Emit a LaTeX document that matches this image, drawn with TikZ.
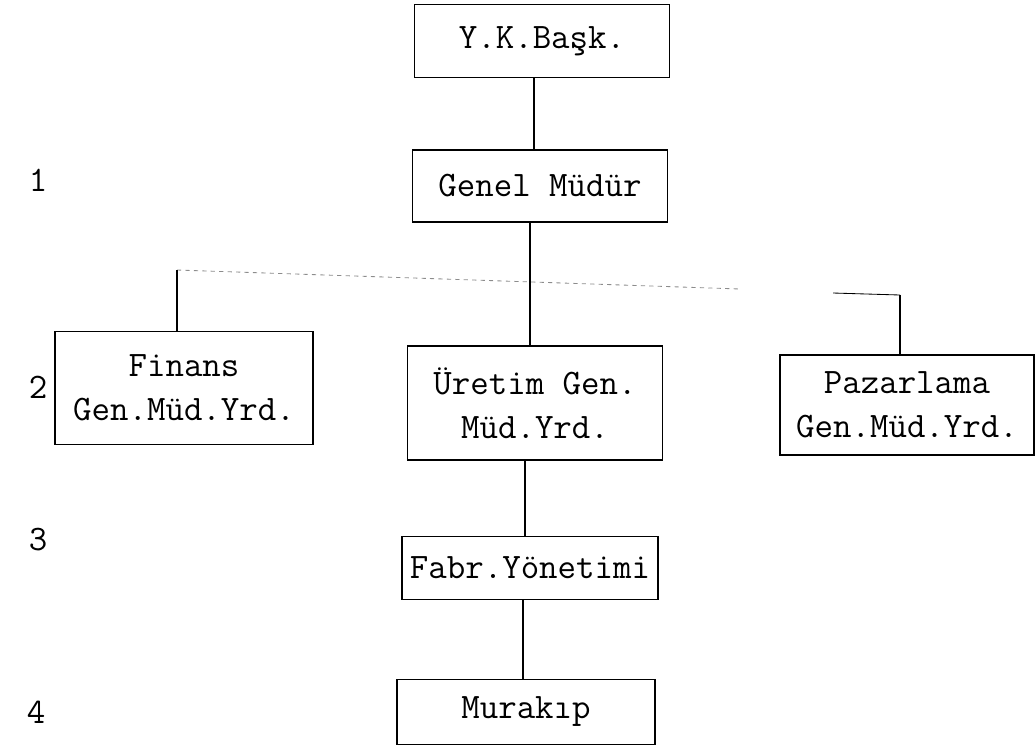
\documentclass[tikz,border=0pt]{standalone}

\begin{document}
\begin{tikzpicture}[x=0.025cm, y=-0.025cm,
  every node/.style={font=\ttfamily\fontsize{25.5}{31}\selectfont},
  unit/.style={draw, line width=1.2pt, inner sep=0pt, align=center},
  link/.style={line width=0.8pt},
  bus/.style={line width=0.6pt, black!45, dashed}]
\useasboundingbox (0,0) rectangle (1036,752);
% level numbers
\node (l1) at (38,180) {1};
\node (l2) at (38,387) {2};
\node (l3) at (38,540) {3};
\node (l4) at (36,712) {4};
% units
\node[unit, minimum width=6.375cm, minimum height=1.825cm] (yk) at (542,41) {Y.K.Başk.};
\node[unit, minimum width=6.375cm, minimum height=1.8cm] (genel) at (540,186) {Genel Müdür};
\node[unit, minimum width=6.45cm, minimum height=2.825cm] (finans) at (184,388) {Finans\\Gen.Müd.Yrd.};
\node[unit, minimum width=6.375cm, minimum height=2.85cm] (uretim) at (535,403) {Üretim Gen.\\Müd.Yrd.};
\node[unit, minimum width=6.35cm, minimum height=2.5cm] (pazar) at (907,405) {Pazarlama\\Gen.Müd.Yrd.};
\node[unit, minimum width=6.4cm, minimum height=1.575cm] (fabr) at (530,568) {Fabr.Yönetimi};
\node[unit, minimum width=6.45cm, minimum height=1.625cm] (murakip) at (526,712) {Murakıp};
% connectors
\coordinate (trunk) at (530,0);
\coordinate (busL) at (177,270);
\coordinate (busM) at (740,289);
\coordinate (busN) at (833,293);
\coordinate (busR) at (900,295);
\draw[link] (yk.south -| 534,0) -- (genel.north -| 534,0);
\draw[link] (genel.south -| trunk) -- (uretim.north -| trunk);
\draw[bus] (busL) -- (busM);
\draw[link, line width=0.6pt] (busN) -- (busR);
\draw[link] (busL) -- (finans.north -| busL);
\draw[link] (busR) -- (pazar.north -| busR);
\draw[link] (uretim.south -| 525,0) -- (fabr.north -| 525,0);
\draw[link] (fabr.south -| 523,0) -- (murakip.north -| 523,0);
\end{tikzpicture}
\end{document}
